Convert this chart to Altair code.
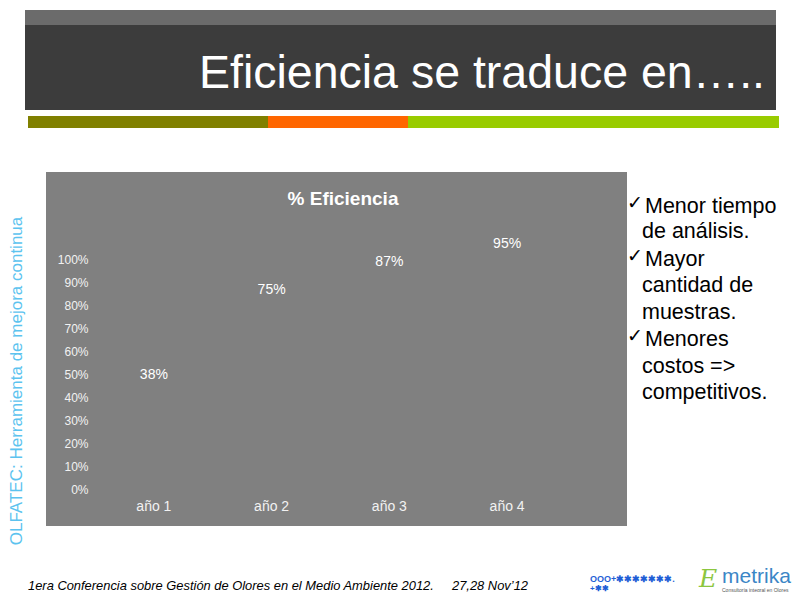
import altair as alt
import pandas as pd

# ---- data ----
years = ["año 1", "año 2", "año 3", "año 4"]
eficiencia = [0.38, 0.75, 0.87, 0.95]
y_ticks = [0, 0.1, 0.2, 0.3, 0.4, 0.5, 0.6, 0.7, 0.8, 0.9, 1.0]

slide_title = "Eficiencia se traduce en….."
chart_title = "% Eficiencia"
side_label = "OLFATEC: Herramienta de mejora continua"
bullets = [
    ("✓", "Menor tiempo"), ("", "de análisis."),
    ("✓", "Mayor"), ("", "cantidad de"), ("", "muestras."),
    ("✓", "Menores"), ("", "costos =>"), ("", "competitivos."),
]
footer_left = "1era Conferencia sobre Gestión de Olores en el Medio Ambiente 2012."
footer_right = "27,28 Nov’12"

df = pd.DataFrame({"year": years, "value": eficiencia})
FONT = "Liberation Sans"
one = alt.Data(values=[{"k": 0}])


def rect(x, x2, y, y2, color):
    return alt.Chart(one).mark_rect(color=color).encode(
        x=alt.value(x), x2=alt.value(x2), y=alt.value(y), y2=alt.value(y2)
    )


def label(txt, x, y, size, color="black", align="left", **kw):
    return alt.Chart(one).mark_text(
        text=txt, font=kw.pop("font", FONT), fontSize=size, color=color,
        align=align, baseline=kw.pop("baseline", "middle"), **kw
    ).encode(x=alt.value(x), y=alt.value(y))


layers = [
    # slide header
    rect(-70, 681, -249, -234, "#6b6b6b"),
    rect(-70, 681, -234, -149, "#3c3c3c"),
    rect(-67, 173, -143, -131, "#808000"),
    rect(173, 313, -143, -131, "#ff6600"),
    rect(313, 684, -143, -131, "#99cc00"),
    label(slide_title, 670, -171, 46.5, color="white", align="right", baseline="alphabetic"),
    # chart panel
    rect(-49, 532, -87, 267, "#808080"),
    label(chart_title, 248, -60, 19, color="white", align="center", fontWeight="bold"),
    # side label
    label(side_label, -78, 122, 17, color="#5cc3ef", align="center", angle=270),
    # footer
    label(footer_left, -67, 327, 12.9, fontStyle="italic"),
    label(footer_right, 357, 327, 12.9, fontStyle="italic"),
    label("OOO+✱✱✱✱✱✱✱.", 495, 320, 9, color="#1f5fd6", fontWeight="bold"),
    label("+✱✱", 495, 330, 8, color="#1f5fd6", fontWeight="bold"),
    label("E", 604, 320, 25, color="#8cc63f", fontStyle="italic", font="DejaVu Serif"),
    label("metrika", 627, 318, 21, color="#3b86c6"),
    label("Consultoría integral en Olores", 627, 331, 5, color="#555555"),
]

# bullets on the right
bullet_y = [-52, -27, 1, 27, 54, 81, 108, 134]
for (chk, txt), by in zip(bullets, bullet_y):
    if chk:
        layers.append(label(chk, 532, by - 4, 19, font="DejaVu Sans"))
        layers.append(label(txt, 550, by, 21.5))
    else:
        layers.append(label(txt, 547, by, 21.5))

base = alt.Chart(df).encode(
    x=alt.X("year:N", sort=years, title=None,
            axis=alt.Axis(labelAngle=0, labelFontSize=14, labelColor="#f2f2f2", zindex=1,
                          labelFont=FONT, labelPadding=10, domain=False, ticks=False, grid=False)),
    y=alt.Y("value:Q", title=None,
            scale=alt.Scale(domain=[0, 1]),
            axis=alt.Axis(values=y_ticks, format=".0%", labelFontSize=12, labelColor="#f2f2f2", zindex=1,
                          labelFont=FONT, labelPadding=7, domain=False, ticks=False, grid=False)),
)
bars = base.mark_bar(color="#808080", size=50)
texts = base.mark_text(dy=-27, color="white", fontSize=14, font=FONT).encode(
    text=alt.Text("value:Q", format=".0%")
)

chart = alt.layer(*layers, bars, texts).properties(
    width=471, height=230,
    autosize=alt.AutoSizeParams(type="none"),
    padding={"left": 87, "top": 251, "right": 226, "bottom": 103},
    background="white",
).configure_view(stroke=None)

chart.save("out.html", embed_options={"renderer": "svg", "actions": False})
